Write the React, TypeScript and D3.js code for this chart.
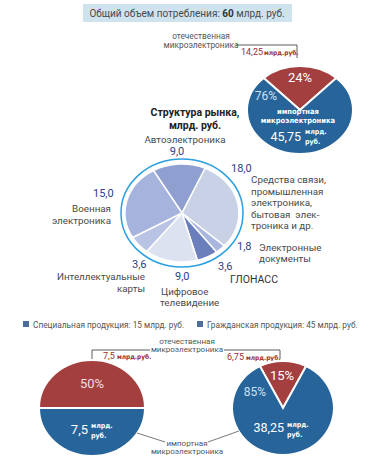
import * as d3 from "d3";

// market structure, bn rub
const marketCategories = [
  "Автоэлектроника",
  "Средства связи",
  "Электронные документы",
  "ГЛОНАСС",
  "Цифровое телевидение",
  "Интеллектуальные карты",
  "Военная электроника",
];
const marketValues = [9.0, 18.0, 1.8, 3.6, 9.0, 3.6, 15.0];
const marketColors = ["#8e9fd0", "#c9d1e7", "#a9b6de", "#6c7fbd", "#dde2f0", "#b9c3e3", "#a6b3dc"];

// [domestic, imported]
const totalShares = [24, 76];
const totalValues = [14.25, 45.75];
const specialShares = [50, 50];
const specialValues = [7.5, 7.5];
const civilShares = [15, 85];
const civilValues = [6.75, 38.25];

const legendLabels = ["Специальная продукция: 15 млрд. руб.", "Гражданская продукция: 45 млрд. руб."];

const RED = "#a3403f";
const BLUE = "#27649a";
const FONT = "Roboto, sans-serif";
const NARROW = "'DejaVu Sans Condensed', Roboto, sans-serif";
const fmt = (v: number) => String(v).replace(".", ",");
const fmt1 = (v: number) => v.toFixed(1).replace(".", ",");

function SharePie({ cx, cy, rx, ry, shares }: { cx: number; cy: number; rx: number; ry: number; shares: number[] }) {
  const start = -Math.PI * shares[0] / 100;
  const arcs = d3.pie<number>().sort(null).startAngle(start).endAngle(start + 2 * Math.PI)(shares);
  const arc = d3.arc<d3.PieArcDatum<number>>().innerRadius(0).outerRadius(rx);
  return (
    <g transform={`translate(${cx},${cy}) scale(1,${ry / rx})`}>
      {arcs.map((a, i) => (
        <path key={i} d={arc(a) || ""} fill={i === 0 ? RED : BLUE} stroke="#fff" strokeWidth={2}
          vectorEffect="non-scaling-stroke" />
      ))}
    </g>
  );
}

export default function App() {
  const mStart = -30 * Math.PI / 180;
  const mArcs = d3.pie<number>().sort(null).startAngle(mStart).endAngle(mStart + 2 * Math.PI)(marketValues);
  const mArc = d3.arc<d3.PieArcDatum<number>>().innerRadius(0).outerRadius(57);
  const valColor = "#2f3d8c";
  const lab = { fontSize: 9.8, fill: "#4a4a4a" };
  const val = { fontSize: 11, fill: valColor };
  const small = { fontSize: 8.3, fill: "#555" };
  const unit = { fontSize: 7, fontWeight: 700, fontFamily: NARROW, fill: "#fff" };
  const red = "#9b2f35";

  return (
    <svg width={374} height={459} style={{ position: "absolute", left: 0, top: 0, background: "#fff" }} fontFamily={FONT}>
      {/* header */}
      <rect x={83} y={4} width={209} height={18} fill="#cfe3ee" />
      <text x={187} y={17} textAnchor="middle" fontSize={10} fill="#4a4a4a">
        Общий объем потребления: <tspan fontWeight={700} fill="#333">60</tspan> млрд. руб.
      </text>

      {/* top pie */}
      <text x={201} y={39} textAnchor="middle" {...small}>отечественная</text>
      <text x={201} y={47.5} textAnchor="middle" {...small}>микроэлектроника</text>
      <path d="M236,45H297V58" fill="none" stroke="#333" strokeWidth={0.8} />
      <text x={241} y={55} fill={red}>
        <tspan fontSize={9}>{fmt(totalValues[0])}</tspan>
        <tspan fontSize={6.5} fontWeight={700} fontFamily={NARROW} dx={1}>млрд.руб.</tspan>
      </text>
      <SharePie cx={300} cy={110} rx={53} ry={44} shares={totalShares} />
      <text x={300} y={82} textAnchor="middle" fontSize={13} fill="#fff">{totalShares[0]}%</text>
      <text x={266} y={100} textAnchor="middle" fontSize={12} fill="#cfe0ef">{totalShares[1]}%</text>
      <text x={298} y={114} textAnchor="middle" fontSize={7.5} fontWeight={700} fontFamily={NARROW} fill="#fff">импортная</text>
      <text x={298} y={123} textAnchor="middle" fontSize={7.5} fontWeight={700} fontFamily={NARROW} fill="#fff">микроэлектроника</text>
      <text x={301} y={141} textAnchor="end" fontSize={12.5} fill="#fff">{fmt(totalValues[1])}</text>
      <text x={305} y={134} {...unit}>млрд.</text>
      <text x={305} y={144} {...unit}>руб.</text>

      {/* market structure pie */}
      <text x={195} y={116} textAnchor="middle" fontSize={10.5} fontWeight={700} fill="#222">Структура рынка,</text>
      <text x={195} y={129} textAnchor="middle" fontSize={10.5} fontWeight={700} fill="#222">млрд. руб.</text>
      <ellipse cx={182} cy={213} rx={61} ry={54} fill="none" stroke="#2a9fe0" strokeWidth={1.5} />
      <g transform={`translate(182,213) scale(1,${49 / 57})`}>
        {mArcs.map((a, i) => (
          <path key={marketCategories[i]} d={mArc(a) || ""} fill={marketColors[i]} stroke="#fff" strokeWidth={1.5}
            vectorEffect="non-scaling-stroke" />
        ))}
      </g>
      <text x={185} y={143} textAnchor="middle" {...lab}>Автоэлектроника</text>
      <text x={177} y={155} textAnchor="middle" {...val}>{fmt1(marketValues[0])}</text>
      <text x={231} y={172} {...val}>{fmt1(marketValues[1])}</text>
      {["Средства связи,", "промышленная", "электроника,", "бытовая  элек-", "троника и др."].map((t, i) => (
        <text key={t} x={251} y={183 + i * 11.5} {...lab} style={{ whiteSpace: "pre" }}>{t}</text>
      ))}
      <text x={237} y={250} {...val}>{fmt1(marketValues[2])}</text>
      <text x={259} y={251} {...lab}>Электронные</text>
      <text x={259} y={262} {...lab}>документы</text>
      <text x={218} y={270} {...val}>{fmt1(marketValues[3])}</text>
      <text x={230} y={283} fontSize={10.5} fill="#333">{marketCategories[3]}</text>
      <text x={175} y={280} {...val}>{fmt1(marketValues[4])}</text>
      <text x={161} y={295} {...lab}>Цифровое</text>
      <text x={160} y={306} {...lab}>телевидение</text>
      <text x={132} y={268} {...val}>{fmt1(marketValues[5])}</text>
      <text x={145} y={280} textAnchor="end" {...lab}>Интеллектуальные</text>
      <text x={145} y={292} textAnchor="end" {...lab}>карты</text>
      <text x={93} y={197} {...val}>{fmt1(marketValues[6])}</text>
      <text x={111} y={212} textAnchor="end" {...lab}>Военная</text>
      <text x={111} y={223.5} textAnchor="end" {...lab}>электроника</text>

      {/* legend */}
      {legendLabels.map((t, i) => (
        <g key={t}>
          <rect x={i === 0 ? 23 : 197} y={321} width={6} height={6} fill="#4d6e9c" />
          <text x={i === 0 ? 33 : 207} y={327.5} fontSize={8.3} fill="#555">{t}</text>
        </g>
      ))}

      {/* bottom pies */}
      <text x={187} y={343.5} textAnchor="middle" fontSize={8} fill="#555">отечественная</text>
      <text x={187} y={352} textAnchor="middle" fontSize={8} fill="#555">микроэлектроника</text>
      <path d="M150,350H92V360" fill="none" stroke="#333" strokeWidth={0.8} />
      <path d="M224,350H280V359" fill="none" stroke="#333" strokeWidth={0.8} />
      <text x={103} y={359} fill={red}>
        <tspan fontSize={9}>{fmt(specialValues[0])}</tspan>
        <tspan fontSize={6.5} fontWeight={700} fontFamily={NARROW} dx={2}>млрд.руб.</tspan>
      </text>
      <text x={227} y={360} fill={red}>
        <tspan fontSize={9}>{fmt(civilValues[0])}</tspan>
        <tspan fontSize={6.5} fontWeight={700} fontFamily={NARROW} dx={2}>млрд.руб.</tspan>
      </text>

      <SharePie cx={92} cy={408} rx={53} ry={48} shares={specialShares} />
      <text x={92} y={388} textAnchor="middle" fontSize={13} fill="#f2dede">{specialShares[0]}%</text>
      <text x={88} y={434} textAnchor="end" fontSize={13} fill="#fff">{fmt(specialValues[1])}</text>
      <text x={91} y={428} {...unit}>млрд.</text>
      <text x={91} y={438} {...unit}>руб.</text>

      <SharePie cx={283} cy={408} rx={51} ry={47} shares={civilShares} />
      <text x={282} y={380} textAnchor="middle" fontSize={13} fill="#fff">{civilShares[0]}%</text>
      <text x={255} y={396} textAnchor="middle" fontSize={12} fill="#cfe0ef">{civilShares[1]}%</text>
      <text x={284} y={432} textAnchor="end" fontSize={12.5} fill="#fff">{fmt(civilValues[1])}</text>
      <text x={287} y={427} {...unit}>млрд.</text>
      <text x={287} y={437} {...unit}>руб.</text>

      <path d="M137,433L165,442M208,442L239,431" fill="none" stroke="#555" strokeWidth={0.8} />
      <text x={187} y={445.5} textAnchor="middle" fontSize={8} fill="#555">импортная</text>
      <text x={187} y={454} textAnchor="middle" fontSize={8} fill="#555">микроэлектроника</text>
    </svg>
  );
}
